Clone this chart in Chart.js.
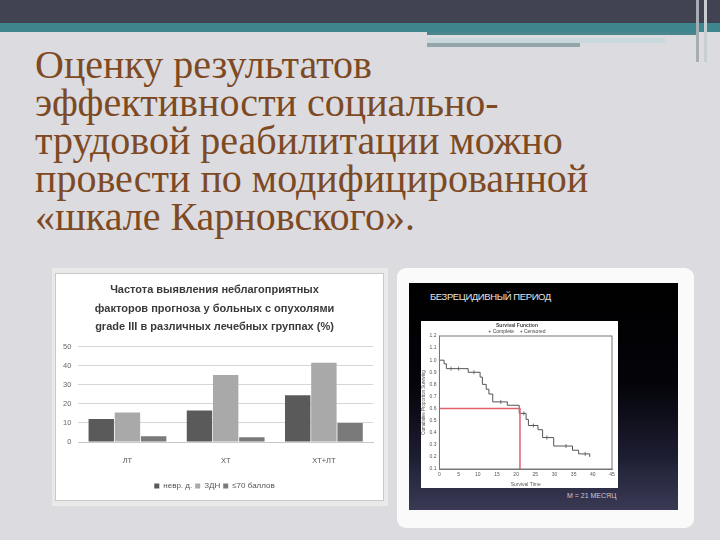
<!DOCTYPE html>
<html><head><meta charset="utf-8">
<script src="https://cdn.jsdelivr.net/npm/chart.js@4.4.0/dist/chart.umd.min.js"></script>
<style>
html,body{margin:0;padding:0;}
body{width:720px;height:540px;position:relative;overflow:hidden;background:#dcdce0;font-family:"Liberation Serif",serif;}
.abs{position:absolute;}
.tl{position:absolute;left:35px;font-family:"Liberation Serif",serif;font-size:40px;line-height:38px;color:#7d4a24;white-space:nowrap;}
</style></head>
<body>
<div class="abs" style="left:0;top:0;width:720px;height:23px;background:#414353"></div>
<div class="abs" style="left:0;top:23px;width:720px;height:9px;background:#3e858d"></div>
<div class="abs" style="left:427px;top:32px;width:270px;height:3px;background:#4a868d"></div>
<div class="abs" style="left:427px;top:38px;width:238px;height:5px;background:#c9d8dc"></div>
<div class="abs" style="left:427px;top:43px;width:153px;height:4px;background:#93a5a9"></div>
<div class="abs" style="left:696px;top:0;width:3px;height:62px;background:#a7adb4"></div>
<div class="abs" style="left:704px;top:0;width:3px;height:62px;background:#c9ced3"></div>

<div class="tl" style="top:46px">Оценку результатов</div>
<div class="tl" style="top:84px">эффективности социально-</div>
<div class="tl" style="top:122px">трудовой реабилитации можно</div>
<div class="tl" style="top:160px">провести по модифицированной</div>
<div class="tl" style="top:198px">«шкале Карновского».</div>

<div class="abs" style="left:52px;top:268px;width:336px;height:238px;background:#e9e9ea"></div>
<div class="abs" style="left:55px;top:273px;width:327px;height:226px;background:#fff;border:1px solid #c9c9c9">
  <canvas id="bar" width="327" height="226" style="width:327px;height:226px"></canvas>
</div>

<div class="abs" style="left:397px;top:268px;width:297px;height:260px;background:#fafafa;border-radius:9px"></div>
<div class="abs" style="left:409px;top:283px;width:269px;height:227px;background:linear-gradient(to bottom,#000 0%,#04040a 45%,#1c1c30 75%,#3a3a56 100%)"></div>
<div class="abs" style="left:430px;top:291px;font-family:'Liberation Sans',sans-serif;font-size:9.5px;color:#e4e4e4;letter-spacing:-0.4px;white-space:nowrap">БЕЗРЕЦИДИВНЫЙ ПЕРИОД</div>
<div class="abs" style="left:567px;top:492px;font-family:'Liberation Sans',sans-serif;font-size:7px;color:#c9c9d6;white-space:nowrap">M = 21 МЕСЯЦ</div>
<div class="abs" style="left:421px;top:321px;width:197px;height:167px;background:#fff">
  <canvas id="km" width="197" height="167" style="width:197px;height:167px"></canvas>
</div>

<script>
// Bar chart data
const barCategories = ["ЛТ", "ХТ", "ХТ+ЛТ"];
const seriesNames = ["невр. д.", "ЗДН", "≤70 баллов"];
const seriesNevr = [12, 16.5, 24.5];
const seriesZdn = [15.5, 35, 41.5];
const seriesK70 = [3, 2.5, 10];
const barTicks = [0, 10, 20, 30, 40, 50];
const barTitle = ["Частота выявления неблагоприятных", "факторов прогноза у больных с опухолями", "grade III в различных лечебных группах (%)"];

// Survival curve data (months, cumulative proportion surviving)
const kmTime = [0, 1.2, 1.8, 7.5, 10.6, 11.2, 12.2, 12.9, 13.9, 17.7, 20.8, 22.6, 23.2, 25.7, 26.9, 29.8, 34.7, 36.3, 39.2];
const kmSurv = [1.0, 0.97, 0.93, 0.90, 0.86, 0.80, 0.76, 0.72, 0.655, 0.627, 0.56, 0.51, 0.46, 0.425, 0.36, 0.29, 0.255, 0.225, 0.20];
const censTime = [3, 5, 9, 16, 22, 24.5, 28, 33, 38];
const censSurv = [0.93, 0.93, 0.90, 0.655, 0.56, 0.46, 0.36, 0.29, 0.225];
const medianTime = [0, 21, 21];
const medianSurv = [0.6, 0.6, 0.1];
const kmXTicks = [0, 5, 10, 15, 20, 25, 30, 35, 40, 45];
const kmYTicks = [0.1, 0.2, 0.3, 0.4, 0.5, 0.6, 0.7, 0.8, 0.9, 1.0, 1.1, 1.2];

Chart.defaults.animation = false;
Chart.defaults.font.family = "'Liberation Sans', Arial, sans-serif";

new Chart(document.getElementById('bar'), {
  type: 'bar',
  data: {
    labels: barCategories,
    datasets: [
      {label: seriesNames[0], data: seriesNevr, backgroundColor: '#5a5a5a'},
      {label: seriesNames[1], data: seriesZdn, backgroundColor: '#a9a9a9'},
      {label: seriesNames[2], data: seriesK70, backgroundColor: '#7a7a7a'}
    ]
  },
  options: {
    responsive: false,
    datasets: {bar: {categoryPercentage: 0.8, barPercentage: 0.97}},
    layout: {padding: {left: 0, right: 10, top: 0, bottom: 0}},
    plugins: {
      title: {display: true, text: barTitle, color: '#3a3a3a', font: {size: 11, weight: 'bold', lineHeight: 1.68}, padding: {top: 7, bottom: 10}},
      legend: {position: 'bottom', labels: {color: '#555', font: {size: 8}, boxWidth: 5, boxHeight: 5, padding: 3}},
      tooltip: {enabled: false}
    },
    scales: {
      x: {grid: {display: false, drawTicks: false}, border: {color: '#c8c8c8'}, ticks: {color: '#555', font: {size: 7.5}, padding: 14}},
      y: {min: 0, max: 50, afterBuildTicks: s => { s.ticks = barTicks.map(v => ({value: v})); },
          grid: {color: '#d6d6d6', drawTicks: false}, border: {display: false},
          ticks: {color: '#666', font: {size: 7.5}, padding: 7}}
    }
  }
});

const pts = (xs, ys) => xs.map((x, i) => ({x: x, y: ys[i]}));
new Chart(document.getElementById('km'), {
  type: 'scatter',
  data: {
    datasets: [
      {label: 'median', data: pts(medianTime, medianSurv), showLine: true, borderColor: '#e0606e', borderWidth: 1.5, pointRadius: 0},
      {label: 'Complete', data: pts(kmTime, kmSurv), showLine: true, stepped: 'before', borderColor: '#555', borderWidth: 1, pointRadius: 0},
      {label: 'Censored', data: pts(censTime, censSurv), showLine: false, pointStyle: 'line', rotation: 90, pointRadius: 2, borderColor: '#555', borderWidth: 0.8}
    ]
  },
  options: {
    responsive: false,
    layout: {padding: {left: 1, right: 6, top: 0, bottom: 0}},
    plugins: {
      title: {display: true, text: 'Survival Function', color: '#444', font: {size: 5, lineHeight: 1.1}, padding: {top: 2, bottom: 0}},
      subtitle: {display: true, text: '+ Complete    + Censored', color: '#444', font: {size: 5, lineHeight: 1.1}, padding: {top: 0, bottom: 2}},
      legend: {display: false},
      tooltip: {enabled: false}
    },
    scales: {
      x: {type: 'linear', min: 0, max: 45, afterBuildTicks: s => { s.ticks = kmXTicks.map(v => ({value: v})); },
          grid: {display: false, drawTicks: false}, border: {color: '#777'},
          ticks: {color: '#555', font: {size: 5, lineHeight: 1}, padding: 3},
          title: {display: true, text: 'Survival Time', color: '#555', font: {size: 5, lineHeight: 1}, padding: {top: 2, bottom: 1}}},
      y: {type: 'linear', min: 0.1, max: 1.2, afterBuildTicks: s => { s.ticks = kmYTicks.map(v => ({value: v})); },
          grid: {display: false, drawTicks: false}, border: {color: '#777'},
          ticks: {color: '#555', font: {size: 5}, padding: 3, callback: v => v.toFixed(1)},
          title: {display: true, text: 'Cumulative Proportion Surviving', color: '#555', font: {size: 4.5, lineHeight: 1}, padding: {top: 0, bottom: 0}}}
    }
  },
  plugins: [{
    id: 'frame',
    afterDraw(c) {
      const a = c.chartArea, ctx = c.ctx;
      ctx.save(); ctx.strokeStyle = '#777'; ctx.lineWidth = 1;
      ctx.strokeRect(a.left, a.top, a.right - a.left, a.bottom - a.top);
      ctx.restore();
    }
  }]
});
</script>
</body></html>
